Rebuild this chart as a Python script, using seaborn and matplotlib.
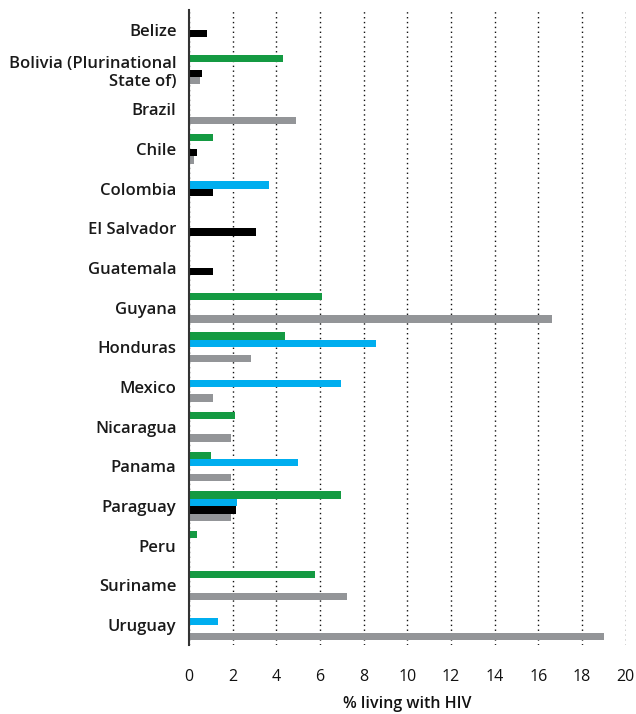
import matplotlib
matplotlib.use("Agg")
import matplotlib.pyplot as plt
import numpy as np
import pandas as pd
import seaborn as sns

countries = [
    "Belize", "Bolivia (Plurinational\nState of)", "Brazil", "Chile", "Colombia",
    "El Salvador", "Guatemala", "Guyana", "Honduras", "Mexico", "Nicaragua",
    "Panama", "Paraguay", "Peru", "Suriname", "Uruguay",
]
series = ["Series 1", "Series 2", "Series 3", "Series 4"]

nan = np.nan
# one value per country, nan where no bar is drawn
series_1 = [nan, 4.3, nan, 1.1, nan, nan, nan, 6.1, 4.4, nan, 2.1, 1.0, 6.95, 0.35, 5.75, nan]
series_2 = [nan, nan, nan, nan, 3.65, nan, nan, nan, 8.55, 6.95, nan, 5.0, 2.2, nan, nan, 1.35]
series_3 = [0.85, 0.6, nan, 0.35, 1.1, 3.05, 1.1, nan, nan, nan, nan, nan, 2.15, nan, nan, nan]
series_4 = [nan, 0.5, 4.9, 0.25, nan, nan, nan, 16.6, 2.85, 1.1, 1.95, 1.95, 1.95, nan, 7.25, 19.0]

colors = ["#149a42", "#00aeef", "#000000", "#939598"]

df = pd.DataFrame({
    "country": np.tile(countries, 4),
    "series": np.repeat(series, len(countries)),
    "value": series_1 + series_2 + series_3 + series_4,
})

sns.set_style("white")
plt.rcParams["font.family"] = ["Open Sans", "DejaVu Sans"]

fig = plt.figure(figsize=(6.36, 7.14), dpi=100)
ax = fig.add_axes([0.297, 0.0966, 0.687, 0.8894])

sns.barplot(
    data=df, x="value", y="country", hue="series",
    order=countries, hue_order=series, palette=colors, saturation=1,
    orient="h", width=0.75, errorbar=None, linewidth=0,
    legend=False, ax=ax,
)

ax.set_xlim(0, 20)
ax.set_ylim(len(countries) - 0.5, -0.5)
ax.set_xticks(np.arange(0, 21, 2))
ax.tick_params(axis="x", length=0, pad=17, labelsize=11.5, colors="#111111")
ax.xaxis.grid(True, linestyle=(0, (1, 2.5)), color="#111111", linewidth=1)
ax.yaxis.grid(False)

# labels at group centres, tick marks at group boundaries
ax.set_yticks(np.arange(len(countries)))
ax.set_yticklabels(countries, fontweight="semibold", fontsize=12, color="#1a1a1a")
ax.tick_params(axis="y", which="major", length=0, pad=9)
ax.set_yticks(np.arange(-0.5, len(countries)), minor=True)
ax.tick_params(axis="y", which="minor", length=6, width=1.3, color="#333333", direction="out")

for side in ["top", "right", "bottom"]:
    ax.spines[side].set_visible(False)
ax.spines["left"].set_color("#333333")
ax.spines["left"].set_linewidth(1.5)

ax.set_ylabel("")
ax.set_xlabel("% living with HIV", fontsize=11.5, fontweight="semibold",
              color="#111111", labelpad=8)

fig.savefig("out.png", dpi=100)
